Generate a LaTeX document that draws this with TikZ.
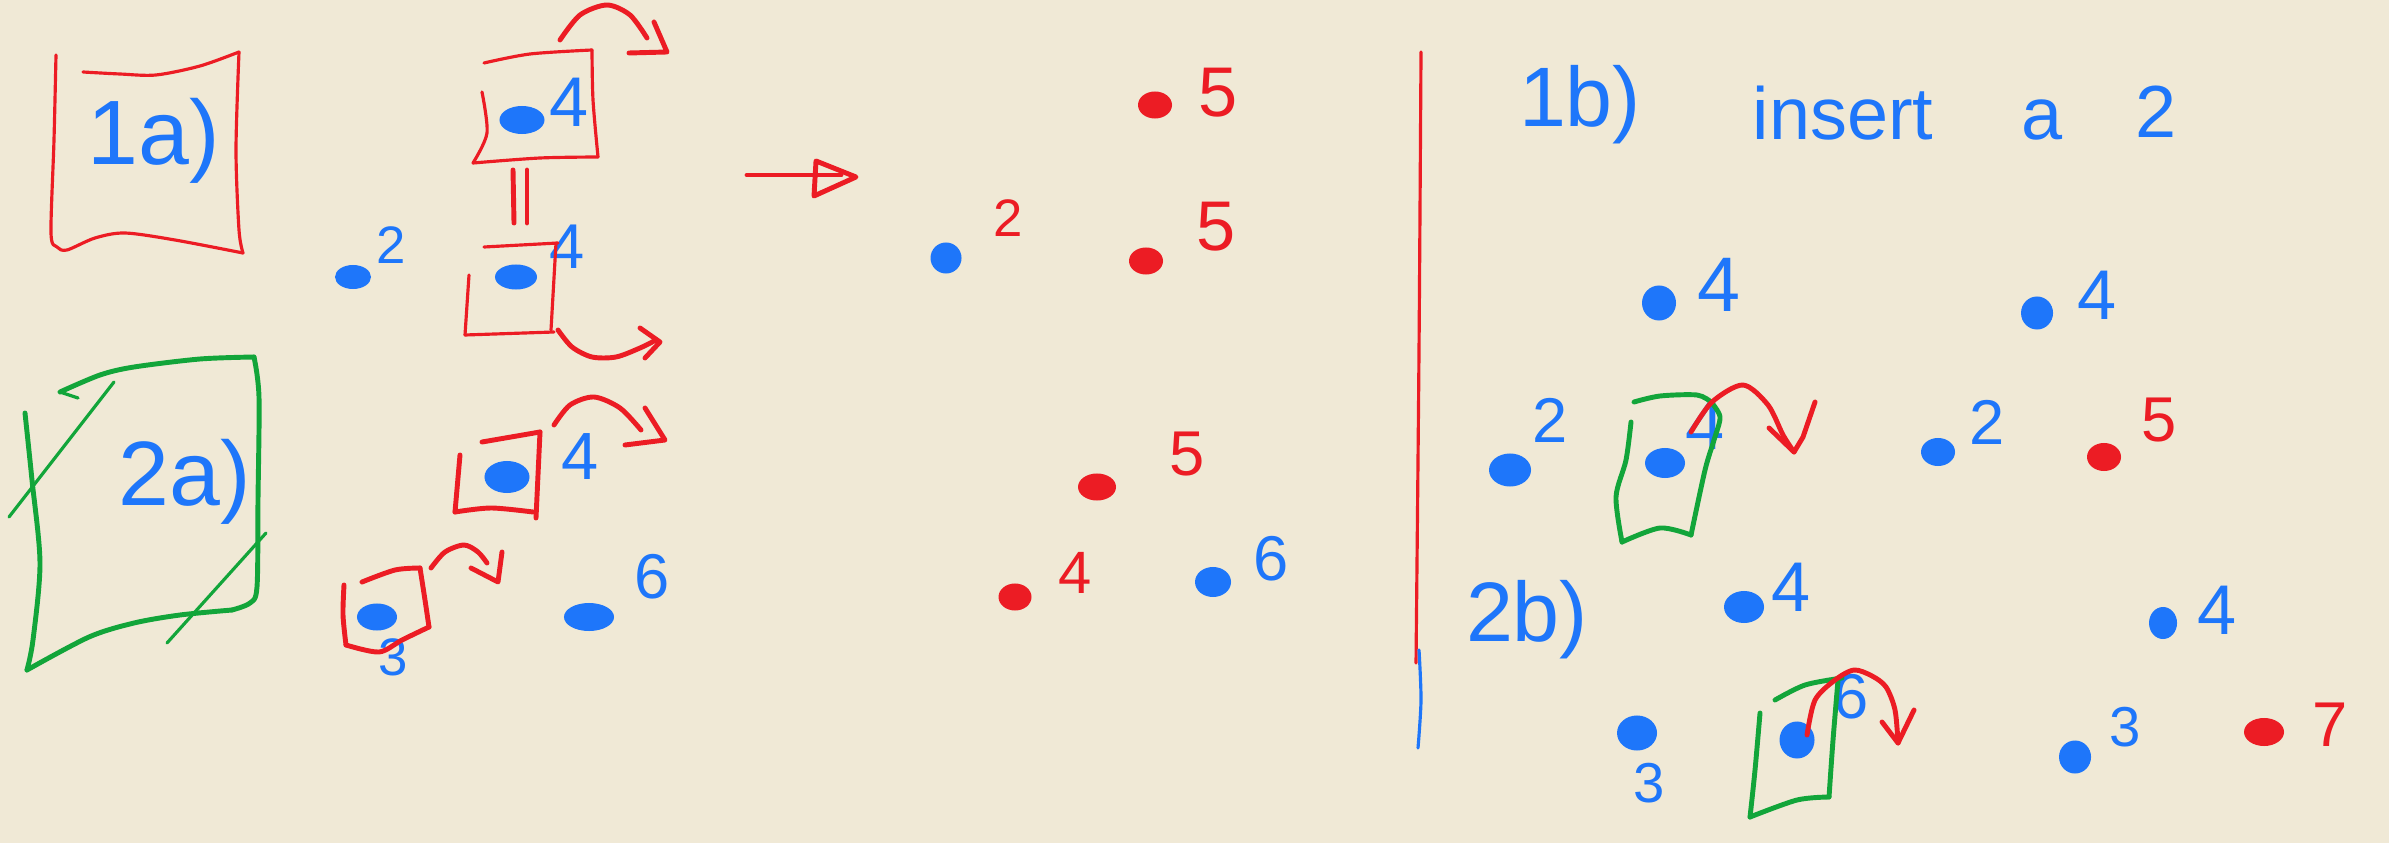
\documentclass[tikz,border=0pt]{standalone}
\usepackage{fontspec}
\setmainfont{Liberation Sans}
\usetikzlibrary{shapes.geometric}
\definecolor{bg}{RGB}{240,233,214}
\definecolor{pb}{RGB}{30,118,250}
\definecolor{pr}{RGB}{236,28,36}
\definecolor{pg}{RGB}{18,165,58}
\begin{document}
\begin{tikzpicture}[x=0.01cm,y=-0.01cm,line cap=round,line join=round,
  dotb/.style={ellipse,fill=pb,inner sep=0pt,minimum width=0.36cm,minimum height=0.29cm},
  dotr/.style={ellipse,fill=pr,inner sep=0pt,minimum width=0.36cm,minimum height=0.29cm},
  lab/.style={inner sep=0pt,font=\fontsize{#1pt}{#1pt}\selectfont},
  penA/.style={line width=0.9pt},
  penB/.style={line width=1.4pt}]
\fill[bg] (0,0) rectangle (2389,843);
\useasboundingbox (0,0) rectangle (2389,843);

% ---------- panel 1a ----------
\draw[pr,penA] plot[smooth] coordinates {(56,55) (54,140) (51,233) (57,247) (67,250) (95,238) (125,233) (175,240) (243,253)};
\draw[pr,penA] plot[smooth] coordinates {(83,72) (120,74) (156,75) (200,66) (239,52)};
\draw[pr,penA] plot[smooth] coordinates {(239,52) (236,150) (239,230) (243,253)};
\node[lab=26,pb] (t1a) at (154,141) {1a)};

\node[dotb,minimum width=0.36cm,minimum height=0.24cm] (a2) at (353,277) {};
\node[lab=15,pb] (a2l) at (391,245) {2};

\node[dotb,minimum width=0.45cm,minimum height=0.28cm] (a4t) at (522,120) {};
\node[lab=20,pb] (a4tl) at (569,102) {4};
\draw[pr,penA] plot[smooth] coordinates {(484,63) (530,54) (592,50)};
\draw[pr,penA] plot[smooth] coordinates {(482,92) (487,133) (473,163)};
\draw[pr,penA] plot[smooth] coordinates {(473,163) (540,158) (598,157)};
\draw[pr,penA] plot[smooth] coordinates {(598,157) (593,100) (592,50)};
\coordinate (arA1) at (560,40);
\coordinate (arA2) at (647,38);
\draw[pr,penB] plot[smooth] coordinates {(arA1) (580,15) (607,5) (630,15) (arA2)};
\draw[pr,penB] (654,22) -- (667,52) -- (629,53);

\draw[pr,penB] (513,170) -- (514,223);
\draw[pr,penB] (527,170) -- (527,223);

\node[dotb,minimum width=0.42cm,minimum height=0.25cm] (a4b) at (516,277) {};
\node[lab=18,pb] (a4bl) at (567,247) {4};
\draw[pr,penA] (469,275) -- (465,335);
\draw[pr,penA] (484,247) -- (558,243);
\draw[pr,penA] (556,243) -- (551,330);
\draw[pr,penA] (465,335) -- (554,332);
\draw[pr,penB] plot[smooth] coordinates {(558,330) (572,347) (592,357) (616,357) (640,348) (656,340)};
\draw[pr,penB] (640,328) -- (660,342) -- (645,358);

% ---------- panel 2a ----------
\draw[pg,penB] plot[smooth] coordinates {(60,392) (100,375) (134,367) (200,359) (254,357)};
\draw[pg,penA] (60,392) -- (78,398);
\draw[pg,penB] plot[smooth] coordinates {(254,357) (259,397) (258,500) (257,587) (250,603) (232,610)};
\draw[pg,penB] plot[smooth] coordinates {(232,610) (180,615) (134,623) (89,637) (27,670)};
\draw[pg,penB] plot[smooth] coordinates {(25,413) (32,480) (40,563) (33,640) (27,670)};
\draw[pg,penA] (9,517) -- (114,382);
\draw[pg,penA] (167,643) -- (266,533);
\node[lab=26,pb] (t2a) at (185,482) {2a)};

\node[dotb,minimum width=0.45cm,minimum height=0.32cm] (b4) at (507,477) {};
\node[lab=19,pb] (b4l) at (580,457) {4};
\draw[pr,penB] (460,455) -- (455,512);
\draw[pr,penB] (482,442) -- (540,432);
\draw[pr,penB] (540,432) -- (536,518);
\draw[pr,penB] plot[smooth] coordinates {(455,512) (491,508) (533,512)};
\draw[pr,penB] plot[smooth] coordinates {(554,425) (570,405) (594,397) (620,408) (641,430)};
\draw[pr,penB] (645,408) -- (665,440) -- (625,445);

\node[dotb,minimum width=0.40cm,minimum height=0.27cm] (b3) at (377,617) {};
\node[lab=15,pb] (b3l) at (393,657) {3};
\draw[pr,penB] plot[smooth] coordinates {(344,585) (343,615) (346,645)};
\draw[pr,penB] plot[smooth] coordinates {(362,582) (395,570) (420,568)};
\draw[pr,penB] plot[smooth] coordinates {(420,568) (425,600) (429,627)};
\draw[pr,penB] plot[smooth] coordinates {(429,627) (402,640) (379,652) (346,645)};
\draw[pr,penB] plot[smooth] coordinates {(431,568) (445,552) (464,545) (478,552) (487,563)};
\draw[pr,penB] (471,568) -- (498,582) -- (502,552);

\node[dotb,minimum width=0.50cm,minimum height=0.28cm] (b6) at (589,617) {};
\node[lab=18,pb] (b6l) at (652,577) {6};

% ---------- middle ----------
\coordinate (mA) at (747,175);
\coordinate (mB) at (841,175);
\draw[pr,penB] (mA) -- (mB);
\draw[pr,penB] (816,161) -- (856,177) -- (814,196) -- cycle;

\node[dotr,minimum width=0.34cm,minimum height=0.27cm] (m5a) at (1155,105) {};
\node[lab=20,pr] (m5al) at (1218,93) {5};
\node[dotb,minimum width=0.31cm,minimum height=0.31cm] (m2) at (946,258) {};
\node[lab=15,pr] (m2l) at (1008,218) {2};
\node[dotr,minimum width=0.34cm,minimum height=0.27cm] (m5b) at (1146,261) {};
\node[lab=20,pr] (m5bl) at (1216,227) {5};
\node[dotr,minimum width=0.38cm,minimum height=0.27cm] (m5c) at (1097,487) {};
\node[lab=18,pr] (m5cl) at (1187,454) {5};
\node[dotr,minimum width=0.33cm,minimum height=0.27cm] (m4) at (1015,597) {};
\node[lab=17,pr] (m4l) at (1075,573) {4};
\node[dotb,minimum width=0.36cm,minimum height=0.30cm] (m6) at (1213,582) {};
\node[lab=18,pb] (m6l) at (1271,559) {6};

% ---------- divider ----------
\draw[pr,penA] plot[smooth] coordinates {(1421,52) (1419,350) (1416,663)};
\draw[pb,penA] plot[smooth] coordinates {(1419,650) (1421,700) (1418,748)};

% ---------- panel 1b ----------
\node[lab=24,pb] (t1b) at (1580,105) {1b)};
\node[lab=21,pb,anchor=base west] (ins) at (1752,140) {insert};
\node[lab=21,pb,anchor=base west] (insa) at (2021,140) {a};
\node[lab=21,pb,anchor=base west] (ins2) at (2135,138) {2};

\node[dotb,minimum width=0.34cm,minimum height=0.35cm] (c4a) at (1659,303) {};
\node[lab=22,pb] (c4al) at (1719,285) {4};
\node[dotb,minimum width=0.32cm,minimum height=0.33cm] (c4b) at (2037,313) {};
\node[lab=20,pb] (c4bl) at (2097,295) {4};

\node[dotb,minimum width=0.42cm,minimum height=0.33cm] (c2) at (1510,470) {};
\node[lab=18,pb] (c2l) at (1550,420) {2};
\node[dotb,minimum width=0.40cm,minimum height=0.30cm] (c4c) at (1665,463) {};
\node[lab=20,pb] (c4cl) at (1705,425) {4};
\draw[pg,penB] plot[smooth] coordinates {(1634,402) (1660,396) (1697,395) (1711,402)};
\draw[pg,penB] plot[smooth] coordinates {(1631,422) (1626,460) (1616,497) (1622,542)};
\draw[pg,penB] plot[smooth] coordinates {(1622,542) (1660,528) (1691,535)};
\draw[pg,penB] plot[smooth] coordinates {(1691,535) (1705,470) (1714,440) (1720,417) (1711,402)};
\draw[pr,penB] plot[smooth] coordinates {(1691,432) (1712,402) (1743,385) (1768,405) (1783,435) (1794,452)};
\draw[pr,penB] (1769,428) -- (1794,452) -- (1803,437) -- (1815,402);

\node[dotb,minimum width=0.34cm,minimum height=0.28cm] (c2b) at (1938,452) {};
\node[lab=18,pb] (c2bl) at (1987,422) {2};
\node[dotr,minimum width=0.34cm,minimum height=0.28cm] (c5) at (2104,457) {};
\node[lab=18,pr] (c5l) at (2159,420) {5};

% ---------- panel 2b ----------
\node[lab=24,pb] (t2b) at (1527,620) {2b)};
\node[dotb,minimum width=0.40cm,minimum height=0.32cm] (d4a) at (1744,607) {};
\node[lab=20,pb] (d4al) at (1791,587) {4};
\node[dotb,minimum width=0.28cm,minimum height=0.32cm] (d4b) at (2163,623) {};
\node[lab=20,pb] (d4bl) at (2217,610) {4};

\node[dotb,minimum width=0.40cm,minimum height=0.35cm] (d3a) at (1637,733) {};
\node[lab=16,pb] (d3al) at (1649,783) {3};
\node[dotb,minimum width=0.35cm,minimum height=0.37cm] (d6) at (1797,740) {};
\node[lab=18,pb] (d6l) at (1851,697) {6};
\draw[pg,penB] plot[smooth] coordinates {(1775,700) (1805,685) (1842,678)};
\draw[pg,penB] plot[smooth] coordinates {(1760,713) (1755,770) (1750,817)};
\draw[pg,penB] plot[smooth] coordinates {(1750,817) (1797,800) (1829,797)};
\draw[pg,penB] plot[smooth] coordinates {(1829,797) (1833,740) (1838,680)};
\draw[pr,penB] plot[smooth] coordinates {(1807,735) (1815,700) (1835,680) (1854,670) (1872,676) (1886,687) (1895,710) (1898,743)};
\draw[pr,penB] (1882,722) -- (1898,743) -- (1914,710);

\node[dotb,minimum width=0.32cm,minimum height=0.33cm] (d3b) at (2075,757) {};
\node[lab=16,pb] (d3bl) at (2125,727) {3};
\node[dotr,minimum width=0.40cm,minimum height=0.28cm] (d7) at (2264,732) {};
\node[lab=18,pr] (d7l) at (2330,725) {7};
\end{tikzpicture}
\end{document}
